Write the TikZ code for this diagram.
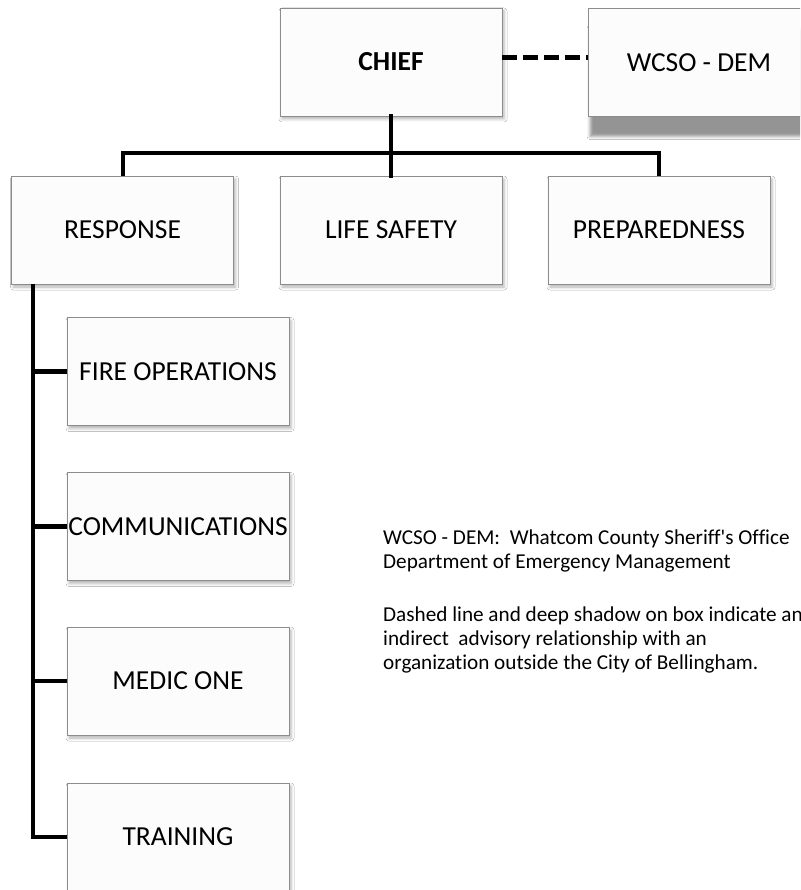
\documentclass[tikz,border=0pt]{standalone}
\usepackage{fontspec}
\setmainfont{Carlito}[Ligatures={TeXOff,NoCommon}]
\usetikzlibrary{shadows.blur}
\tikzset{
  orgbox/.style={draw=black!45, line width=0.9pt, fill=white!99!black, minimum width=222pt, minimum height=108pt, inner sep=0pt,
    font=\fontsize{27.5}{31}\selectfont,
    blur shadow={shadow xshift=2pt, shadow yshift=-3pt, shadow blur radius=3pt, shadow opacity=30}},
  deepbox/.style={draw=black!45, line width=0.9pt, fill=white!99!black, minimum width=222pt, minimum height=108pt, inner sep=0pt,
    font=\fontsize{27.5}{31}\selectfont,
    blur shadow={shadow xshift=2pt, shadow yshift=-20pt, shadow blur radius=3pt, shadow opacity=42}},
  conn/.style={line width=4.5pt, black, line cap=rect},
  dashconn/.style={line width=5pt, black, dash pattern=on 15pt off 6pt},
  note/.style={anchor=base west, inner sep=0pt, font=\fontsize{21.2}{24}\selectfont}
}
\begin{document}
\begin{tikzpicture}[x=1pt,y=-1pt]
\useasboundingbox (0,0) rectangle (800,890);
\clip (0,0) rectangle (800,890);
\fill[white] (0,0) rectangle (800,890);
% top level
\node[orgbox] (chief) at (391,62) {\bfseries CHIEF};
\node[deepbox] (wcso) at (699,62.5) {WCSO - DEM};
% second level
\node[orgbox] (resp) at (122.5,230) {RESPONSE};
\node[orgbox] (life) at (391,230) {LIFE SAFETY};
\node[orgbox] (prep) at (659,230) {PREPAREDNESS};
% third level
\node[orgbox] (fire) at (178,371.5) {FIRE OPERATIONS};
\node[orgbox] (comm) at (178,526.5) {COMMUNICATIONS};
\node[orgbox] (medic) at (178,681) {MEDIC ONE};
\node[orgbox] (train) at (178,837) {TRAINING};
% connectors
\draw[dashconn] (chief.east |- 0,58) -- (wcso.west |- 0,58);
\coordinate (bar) at (0,153);
\draw[conn] (chief.south) -- (life.north);
\draw[conn, line cap=butt] ([xshift=0.5pt]resp.north) |- (bar -| prep.north) -- (prep.north);
\coordinate (spine) at (33,284);
\draw[conn, line cap=butt] (spine) |- (train.west);
\draw[conn, line cap=butt] (spine |- fire.west) -- (fire.west);
\draw[conn, line cap=butt] (spine |- comm.west) -- (comm.west);
\draw[conn, line cap=butt] (spine |- medic.west) -- (medic.west);
% note
\node[note] (n1) at (383,544) {WCSO - DEM:\ \ Whatcom County Sheriff's Office};
\node[note] (n2) at (383,568) {Department of Emergency Management};
\node[note] (n3) at (383,621) {Dashed line and deep shadow on box indicate an};
\node[note] (n4) at (383,645) {indirect\ \ advisory relationship with an};
\node[note] (n5) at (383,669) {organization outside the City of Bellingham.};
\end{tikzpicture}
\end{document}
